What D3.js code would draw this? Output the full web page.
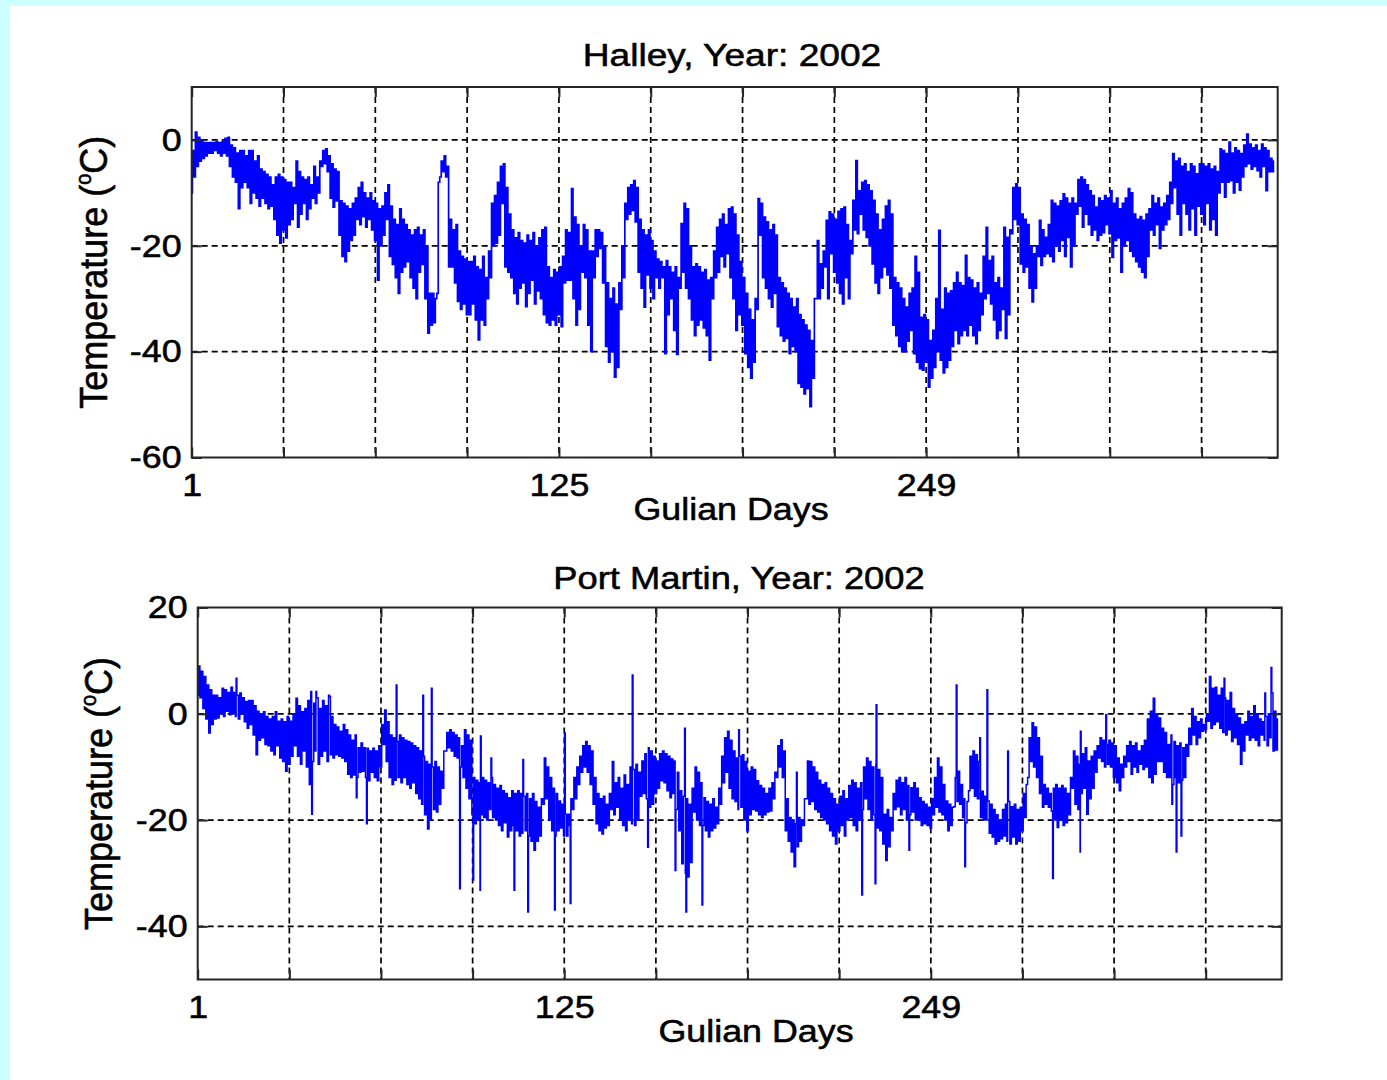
<!DOCTYPE html>
<html>
<head>
<meta charset="utf-8">
<script src="https://cdn.jsdelivr.net/npm/d3@7"></script>
<style>
  html, body { margin: 0; padding: 0; background: #ccffff; }
  svg { display: block; }
</style>
</head>
<body>
<svg id="fig" width="1387" height="1080"></svg>
<script>
// ---- data -------------------------------------------------------------
// Day-of-year index (1 .. 366)
const days = d3.range(1, 367);

// Halley: daily upper / lower envelope of the temperature record (deg C)
const halleyHigh = [
  -2, 1.5, 0.5, 0, -0.5, -0.5, -0.5, -0.5, -0.3, -0.5,
  -0.3, 0.3, 0.5, -1, -1.5, -2.5, -2, -2, -3, -2,
  -2, -4, -3, -5.5, -6, -6.5, -7, -8.5, -7, -6.5,
  -7, -7.5, -8, -8, -9, -4, -6, -7, -7.5, -7,
  -8.5, -5, -7, -4, -2, -1.7, -3, -4.5, -5.5, -6,
  -11.5, -12, -12.5, -13, -12, -11, -9, -8, -10, -11,
  -10, -11.5, -12, -13, -12.5, -10, -8.5, -12.5, -15, -16,
  -13, -15, -16, -17, -18, -17, -16.5, -18, -17, -20,
  -29, -29, -30, -8, -4, -3, -5, -15, -17, -16,
  -21, -22, -22.5, -23, -23, -22, -24, -24.5, -22, -26,
  -21, -12, -10.5, -8, -5, -4.5, -9, -14, -17, -18.5,
  -17.5, -19, -19.5, -18, -19, -17.5, -20, -18.5, -17, -16.5,
  -24, -26, -24.5, -25, -24, -22, -17, -17.5, -9.2, -14.6,
  -16, -20, -16, -17, -21, -21, -17, -17, -17.5, -20,
  -27, -30, -28, -31, -27, -20, -12, -9, -8.5, -7.7,
  -9, -15, -17, -18, -17, -19, -21, -22.5, -23, -24,
  -22.8, -24, -25, -24, -26, -15.8, -12, -13, -20, -24,
  -23.4, -24, -25, -24.5, -26.5, -26, -21, -16.5, -15, -14,
  -16, -13, -12.7, -14, -18, -23, -26, -29, -32, -34,
  -30, -11.1, -12, -14.6, -15.5, -17, -16, -18, -26, -27,
  -28, -29, -30, -31.6, -30, -33, -34, -35, -36, -37.9,
  -30, -19, -23.4, -21, -15.2, -13.6, -14, -15, -13.5, -13,
  -12.7, -16, -19, -11.4, -3.9, -9.6, -8, -7.7, -8.5, -9.6,
  -11.4, -14, -17, -15, -12.5, -11.4, -14, -26, -27, -28,
  -30, -31.6, -29, -28, -22, -25, -33.5, -33, -34, -37.9,
  -36, -30, -17.1, -32, -28, -29, -28.5, -27, -25, -27,
  -27.5, -21.8, -26, -26.5, -28, -27, -29, -22, -16.5, -22.8,
  -22, -27, -26, -28, -16.5, -18.4, -17, -9, -8.3, -9,
  -14, -15, -16, -20, -21.5, -20, -15.2, -17, -18.4, -16,
  -11.4, -12, -12.5, -11.5, -10.2, -11, -12, -11, -12, -7.5,
  -7, -7.5, -8.5, -9.6, -10.5, -12.7, -11, -11.5, -10.5, -11,
  -9.6, -12, -11, -13, -12, -11, -9.2, -10, -14, -15,
  -14.5, -15.2, -14, -13, -10.5, -12, -11, -12.7, -12, -10.5,
  -8, -2.6, -4, -3.5, -5, -4.5, -6, -4.5, -5, -6.4,
  -4.5, -4.5, -5, -4.5, -5.5, -5, -6, -1.7, -2, -2.6,
  -0.4, -2.5, -1.5, -2, -2.6, -1, 1.1, -0.8, -1.5, -1,
  -2, -0.8, -1.5, -2, -3.5, -4
];
const halleyLow = [
  -10, -7, -5, -4, -3.5, -3, -2.5, -2.5, -2, -2.5,
  -3, -2.5, -3, -5, -7, -8, -13, -9, -8, -9,
  -12, -10, -11, -12.5, -11, -12, -13, -12.5, -15, -18,
  -19.5, -17, -18.5, -16, -15, -12, -16.5, -14, -12, -15,
  -13, -11, -12, -10, -5, -4.5, -6, -11, -12.7, -11.5,
  -18, -22, -23, -21, -19, -18, -15, -16, -14.5, -16.5,
  -15, -17, -19, -26.5, -20, -18, -15, -22, -23.5, -26,
  -29, -25, -24, -23, -26, -28, -30, -25, -23.5, -30,
  -36.5, -35, -34.5, -29, -7, -6, -7, -24, -24, -27,
  -30.5, -32, -31, -33, -33, -31, -34, -37.8, -34, -35,
  -30, -26, -20, -19.5, -18, -12, -24, -25, -26, -29,
  -31, -28, -27, -31.5, -29, -26.5, -31, -28.5, -30, -33,
  -34.5, -35, -34, -35, -33, -35.3, -27, -26.5, -26.5, -30,
  -35, -32, -25, -26, -35, -40, -26, -22, -20.5, -27,
  -39, -42, -40, -44.8, -43, -32, -26, -15, -14, -13.3,
  -15.5, -25, -28, -31.6, -25.5, -28, -30, -26, -28, -26,
  -40.4, -33, -30, -36, -40.5, -28, -25, -28, -30, -34,
  -37, -35, -34, -35.5, -37, -41.6, -30, -26, -25, -22,
  -24, -21.5, -26, -30, -36, -33, -35, -40.4, -43, -45,
  -42, -32, -18, -26, -28, -30, -31.6, -29, -35.3, -37,
  -38, -37.5, -40.4, -39, -40, -46, -46.7, -48, -47, -50.4,
  -45, -30, -30, -28, -24, -30, -21.5, -25, -27, -29,
  -31, -26, -30, -21.5, -17, -17.7, -14, -17, -18.4, -20,
  -23.4, -27, -29, -26, -24, -25.5, -28, -35, -37, -39,
  -40, -40, -38, -36, -40.4, -42, -43.2, -43.5, -42, -46.7,
  -45, -43, -40, -41.6, -44, -43, -41.6, -39, -36, -38.5,
  -37, -36, -37, -35, -37, -38.5, -36, -33, -30, -29,
  -31, -34, -37.5, -36, -32, -37.5, -33, -17.7, -15, -16,
  -23.4, -25, -24, -28, -30.6, -28, -22, -23.7, -22, -21.5,
  -22, -23, -20, -21, -19, -22, -18.4, -24, -20, -14,
  -12.5, -16.5, -14, -16, -18, -17, -19, -18, -17.5, -16,
  -17.7, -22.2, -19, -18.5, -25, -20, -19, -21, -22, -23,
  -24, -25, -26, -22, -17, -18, -16, -20.5, -17, -16,
  -15, -12, -9, -14, -18, -12, -14, -17, -13, -18,
  -12.5, -14, -16, -12, -17, -15, -18, -10, -8, -10.8,
  -8, -7.7, -10, -8, -9.5, -7, -5, -4.5, -5.5, -5,
  -5.8, -7, -5, -9.6, -6, -6
];

// Port Martin: daily upper / lower envelope (deg C)
const portHigh = [
  9, 8, 7, 5.4, 4.5, 3.5, 3.5, 3, 4.8, 4.5,
  4, 5, 4, 3.5, 3.9, 3, 2.3, 2.5, 2.5, 1.5,
  0.5, 0, 0.4, -0.5, -1, -0.5, 0.4, -1.4, -1, -1.5,
  -0.5, -1.4, 0, 2.9, 1.5, 0.4, 1, 2.5, 4.2, 2,
  3, 1, 2.5, 1.5, 3.5, -0.5, -2, -2.5, -3.3, -2,
  -3, -4, -5, -4, -6.4, -5.5, -6.4, -6.5, -7, -6.5,
  -7, -6, -2, 0.7, -1.5, -4, -4.5, -5.2, -4, -4.5,
  -5, -5.2, -5.5, -6, -6.4, -7, -8, -9, -9.5, -10,
  -9, -10, -10.8, -7, -3.5, -3, -3.5, -4, -4.5, -6,
  -3, -4, -5, -12, -12.5, -13, -12, -12.5, -13, -12,
  -13.3, -14, -13.5, -14.5, -15, -15.8, -14.5, -15, -14.5, -15,
  -15.5, -15, -16, -15, -16.5, -17.6, -16, -8.3, -10, -12,
  -14, -15, -16.4, -17, -18.9, -18.9, -16, -12, -10, -8,
  -6, -5.2, -6, -7, -12, -15, -16, -15.5, -17, -15,
  -9, -13, -12, -14, -11.5, -13.3, -10, -10.5, -9.5, -11,
  -8.9, -7.5, -6.4, -7, -8, -8.9, -7.5, -7, -7.5, -8,
  -8.5, -8.9, -11, -14.5, -15.5, -16, -17, -14, -10, -11,
  -13, -15.8, -16.5, -17, -16, -17.6, -14, -8, -4.5, -3.3,
  -5, -7, -8.3, -8, -7.7, -9, -10.8, -10, -10.5, -12.6,
  -13.5, -14, -15, -14, -13, -11, -6, -4.9, -7, -16,
  -19.5, -20, -20.7, -19.5, -20, -16, -8.9, -9, -10, -11,
  -12.5, -13.3, -13, -14, -15, -16, -17, -15.5, -14.5, -16,
  -13.5, -12.5, -13, -14, -13, -10, -8.3, -9, -10, -9.5,
  -10.5, -12, -18.9, -18, -19.5, -15, -12.5, -12, -13, -12,
  -13.5, -13.9, -13, -14, -15.8, -16.5, -17, -17.6, -16, -12,
  -8.3, -10, -13.3, -16.4, -17, -17.6, -12, -10.8, -13.3, -16,
  -16.5, -8, -7, -7.7, -9, -14.6, -15.5, -16.4, -17, -18,
  -19, -20, -18, -17, -16.5, -17.5, -17, -18, -17.6, -15,
  -13.3, -4.5, -1.7, -2.5, -4.5, -8, -13.3, -14, -15, -14,
  -13.3, -14, -13.5, -14, -15, -12, -7, -8, -9.5, -7.5,
  -6.4, -8.9, -8, -7, -6, -4.5, -5, -5.8, -5, -5.5,
  -6, -8.3, -9.5, -8, -6, -5.2, -6, -5.5, -7, -6,
  -5, -1, 0.5, 2.9, 0, -0.8, -2.7, -3.5, -5.8, -4,
  -5.2, -6, -5.5, -6.4, -5.8, -2.7, 1, -0.5, -1.5, -1,
  -2, 0, 7, 4.8, 5, 3.5, 4.8, 3, 2.5, 4,
  1, 0, -0.8, -2, -1.5, 0.5, -0.5, 1.5, 0, -1,
  -1.5, -0.5, 0, 3.9, 0.5, -1
];
const portLow = [
  3.5, 3, 1, -1, -3.6, -2, -1, -0.8, 0, -0.5,
  0.5, -0.2, 0, -0.5, -1, 0, -1.5, -2.7, -2, -4,
  -7.7, -5, -4.5, -5.8, -6, -7, -7.7, -6, -8.3, -9,
  -10.8, -9.5, -8, -6, -8, -9.5, -7, -10, -13.3, -9,
  -7, -9.5, -8, -7, -9, -7.7, -8.3, -7.7, -8, -8.3,
  -9, -11.4, -12, -11.5, -12, -11, -10.8, -12, -12.6, -11,
  -12, -12.6, -10, -5.8, -9, -12, -13.3, -12.5, -12, -13,
  -12, -13.3, -14, -13, -15, -16, -17, -19, -21.7, -20,
  -18, -18.5, -17, -14, -7, -6.4, -7, -8, -8.3, -10,
  -12, -14, -16, -19, -20.7, -20, -19, -19.5, -20, -18,
  -19.5, -20, -21, -22, -20.5, -23.2, -22, -21, -22, -23,
  -22.5, -22, -23, -24, -25.7, -24, -23, -17, -16, -20,
  -22, -23, -22, -21.5, -23, -23, -21, -18, -16, -13.3,
  -11, -10, -11, -13.3, -17, -20.7, -22, -22.6, -21.5, -21,
  -18, -19, -17.6, -20, -21, -22, -20, -20.7, -21, -20,
  -15.5, -15, -16, -17.6, -17, -15, -14, -12.6, -13, -14.5,
  -15.8, -15, -18, -22, -28.2, -30, -30.7, -28, -18.5, -20,
  -21, -21, -22, -23.2, -22, -21.5, -20.7, -17, -13, -11,
  -14, -16, -16.5, -18, -17.6, -20, -22, -19, -18, -18.3,
  -19, -19.5, -19, -18.5, -18.3, -16, -12, -10, -12, -22,
  -24, -26, -28.8, -25, -24, -21, -16, -17, -16.5, -18,
  -18.5, -19.5, -20, -20.7, -22, -23, -24.5, -22, -21, -23,
  -20, -19.5, -21, -22, -20, -18, -16, -18, -20, -19,
  -21.5, -22, -24.5, -27.6, -25, -22, -18, -17.5, -19, -18,
  -20, -19, -18.5, -20, -20, -21, -20.7, -21, -21.5, -19,
  -17.6, -18.5, -19, -20, -22, -21, -17.5, -16.5, -17, -19.5,
  -20.5, -14.5, -14, -15.5, -16, -19.5, -20, -20, -22.5, -23.2,
  -24.5, -24, -23.5, -23, -24, -24.5, -23.2, -24.5, -24, -22,
  -19.5, -12, -9, -10, -12, -15, -17.6, -17, -17.6, -18.3,
  -20, -21.4, -20, -21, -20.5, -19, -14, -17, -18, -15,
  -14, -18.9, -16, -14, -11, -8.3, -9, -10, -9.5, -10,
  -12, -13, -14.5, -12, -10, -9, -11.4, -10, -11, -9.5,
  -10.5, -10, -12, -13, -11.4, -9, -9, -11, -12, -12,
  -13.3, -12, -13, -12.5, -12, -8, -5.8, -4, -5.8, -4.5,
  -3.3, -3, -1.4, -2.7, -2, -1.5, -2.7, -3.5, -4, -3,
  -5.2, -4.5, -5.8, -9.5, -7, -4, -5, -4.5, -5, -6,
  -4, -5, -6, -4.5, -7, -6.8
];

// Port Martin: isolated short-lived readings [day, deg C]
const portSpikes = [
  [14, 6.7], [39.6, -18.9], [41, 4.2], [45.8, 3.2], [54.8, -15.8],
  [58.2, -20.7], [68.3, 5.4], [77.3, 3.5], [80.1, 4.8], [89.7, -32.9],
  [94.2, -31.3], [96.5, -33.2], [96.8, -4.2], [100.4, -8.3], [108, -33.2],
  [111, -8.6], [112.8, -37.3], [121.9, -36.9], [125.2, -3.6], [127, -35.7],
  [148, 7.3], [153.4, -25.1], [162.5, -29.5], [165.9, -2.7], [166.3, -37.3],
  [171.7, -36], [184, -3], [203.6, -11], [225.8, -34.1], [230.3, -32],
  [230.5, 1.7], [241.7, -25.7], [257.7, 5.4], [260.5, -28.8], [265.6, -4.5],
  [268, 4.5], [275, -7], [290.4, -31], [299.5, -26], [299.7, -3.3],
  [308.4, -0.2], [330.6, -17], [332, -26], [333.8, -23], [348.4, 6.7],
  [362, 3.9], [364.2, 8.7]
];

// Axis ticks
const xTickValues = [1, 32, 63, 94, 125, 156, 187, 218, 249, 280, 311, 342];
const xTickLabels = ["1", "", "", "", "125", "", "", "", "249", "", "", ""];
const halleyYTicks = [-60, -40, -20, 0];
const portYTicks = [-40, -20, 0, 20];

// ---- layout -----------------------------------------------------------
const FONT = "'Liberation Sans', Arial, Helvetica, sans-serif";
const AXIS_COLOR = "#262626";
const LINE_COLOR = "#0000ff";
const TEXT_STRETCH = 1.12;
const TEXT_WEIGHT = 0.55;   // thin outline that thickens the glyph strokes

const panels = [
  {
    id: "halley",
    title: "Halley, Year: 2002",
    high: halleyHigh, low: halleyLow, spikes: [],
    yDomain: [-60, 10], yTicks: halleyYTicks,
    x0: 191.7, x1: 1277.7, y0: 87, y1: 457.5,
    titleX: 732, titleY: 66, titleStretch: 1.16,
    xLabelX: 731, yLabelX: 107,
    lineWidth: 1.7
  },
  {
    id: "port",
    title: "Port Martin, Year: 2002",
    high: portHigh, low: portLow, spikes: portSpikes,
    yDomain: [-50, 20], yTicks: portYTicks,
    x0: 197.7, x1: 1281.7, y0: 607.5, y1: 979.5,
    titleX: 739, titleY: 589, titleStretch: 1.135,
    xLabelX: 756, yLabelX: 112,
    lineWidth: 1.5
  }
];

const svg = d3.select("#fig");

// page: cyan frame with a white figure area
svg.append("rect").attr("x", 0).attr("y", 0).attr("width", 1387).attr("height", 1080).attr("fill", "#ccffff");
svg.append("rect").attr("x", 10).attr("y", 6).attr("width", 1377).attr("height", 1074).attr("fill", "#ffffff");

function inkText(sel) {
  return sel.attr("fill", "#000").attr("stroke", "#000")
    .attr("stroke-width", TEXT_WEIGHT).attr("stroke-linejoin", "round");
}

function stretchedText(parent, x, y, str, anchor, size, stretch) {
  return inkText(parent.append("text"))
    .attr("transform", `translate(${x},${y}) scale(${stretch},1)`)
    .attr("text-anchor", anchor)
    .attr("font-family", FONT)
    .attr("font-size", size)
    .text(str);
}

// one trace: for every day the lower then the upper reading, plus isolated readings
function traceOf(high, low, spikes) {
  const pts = [];
  days.forEach((d, i) => {
    pts.push([d, low[i]]);
    pts.push([d + 0.5, high[i]]);
  });
  spikes.forEach(s => pts.push([s[0], s[1]]));
  return pts.sort((a, b) => a[0] - b[0]);
}

panels.forEach(p => {
  const g = svg.append("g").attr("class", "panel-" + p.id);
  const x = d3.scaleLinear().domain([1, 367.7]).range([p.x0, p.x1]);
  const y = d3.scaleLinear().domain(p.yDomain).range([p.y1, p.y0]);

  // dashed grid
  const grid = g.append("g").attr("stroke", "#000").attr("stroke-width", 1.7)
    .attr("stroke-dasharray", "6,4").attr("fill", "none");
  xTickValues.filter(v => x(v) > p.x0 + 1 && x(v) < p.x1 - 1).forEach(v => {
    grid.append("line").attr("x1", x(v)).attr("x2", x(v)).attr("y1", p.y0).attr("y2", p.y1);
  });
  p.yTicks.filter(v => y(v) > p.y0 + 1 && y(v) < p.y1 - 1).forEach(v => {
    grid.append("line").attr("x1", p.x0).attr("x2", p.x1).attr("y1", y(v)).attr("y2", y(v));
  });

  // data trace
  const clipId = "clip-" + p.id;
  g.append("clipPath").attr("id", clipId).append("rect")
    .attr("x", p.x0).attr("y", p.y0).attr("width", p.x1 - p.x0).attr("height", p.y1 - p.y0);
  const line = d3.line().x(d => x(d[0])).y(d => y(d[1])).curve(d3.curveStep);
  g.append("path")
    .datum(traceOf(p.high, p.low, p.spikes))
    .attr("clip-path", `url(#${clipId})`)
    .attr("fill", "none")
    .attr("stroke", LINE_COLOR)
    .attr("stroke-width", p.lineWidth)
    .attr("stroke-linejoin", "miter")
    .attr("d", line);

  // axes with inward ticks on all four sides
  const styleAxis = sel => {
    sel.select(".domain").remove();
    sel.selectAll(".tick line").attr("stroke", AXIS_COLOR).attr("stroke-width", 2);
    sel.attr("font-family", FONT).attr("font-size", 32);
  };

  const bottom = g.append("g").attr("transform", `translate(0,${p.y1})`)
    .call(d3.axisBottom(x).tickValues(xTickValues)
      .tickFormat((d, i) => xTickLabels[i])
      .tickSizeInner(-10).tickSizeOuter(0).tickPadding(0));
  styleAxis(bottom);
  inkText(bottom.selectAll(".tick text"))
    .attr("y", 38.5).attr("dy", null)
    .attr("transform", `scale(${TEXT_STRETCH},1)`);

  const top = g.append("g").attr("transform", `translate(0,${p.y0})`)
    .call(d3.axisTop(x).tickValues(xTickValues).tickFormat(() => "")
      .tickSizeInner(-10).tickSizeOuter(0));
  styleAxis(top);
  top.selectAll(".tick text").remove();

  const left = g.append("g").attr("transform", `translate(${p.x0},0)`)
    .call(d3.axisLeft(y).tickValues(p.yTicks).tickFormat(d => String(d))
      .tickSizeInner(-10).tickSizeOuter(0).tickPadding(9));
  styleAxis(left);
  inkText(left.selectAll(".tick text"))
    .attr("transform", `scale(${TEXT_STRETCH},1)`);

  const right = g.append("g").attr("transform", `translate(${p.x1},0)`)
    .call(d3.axisRight(y).tickValues(p.yTicks).tickFormat(() => "")
      .tickSizeInner(-10).tickSizeOuter(0));
  styleAxis(right);
  right.selectAll(".tick text").remove();

  // box
  g.append("rect")
    .attr("x", p.x0).attr("y", p.y0)
    .attr("width", p.x1 - p.x0).attr("height", p.y1 - p.y0)
    .attr("fill", "none").attr("stroke", AXIS_COLOR).attr("stroke-width", 2);

  // title and axis labels
  stretchedText(g, p.titleX, p.titleY, p.title, "middle", 32, p.titleStretch);
  stretchedText(g, p.xLabelX, p.y1 + 62, "Gulian Days", "middle", 32, TEXT_STRETCH);

  const yMid = (p.y0 + p.y1) / 2;
  const yl = inkText(g.append("text"))
    .attr("transform", `translate(${p.yLabelX},${yMid}) scale(1.08,1) rotate(-90)`)
    .attr("text-anchor", "middle")
    .attr("font-family", FONT)
    .attr("font-size", 36);
  yl.append("tspan").text("Temperature (");
  yl.append("tspan").attr("font-size", 20).attr("dy", -15).text("o");
  yl.append("tspan").attr("dy", 15).text("C)");
});
</script>
</body>
</html>
